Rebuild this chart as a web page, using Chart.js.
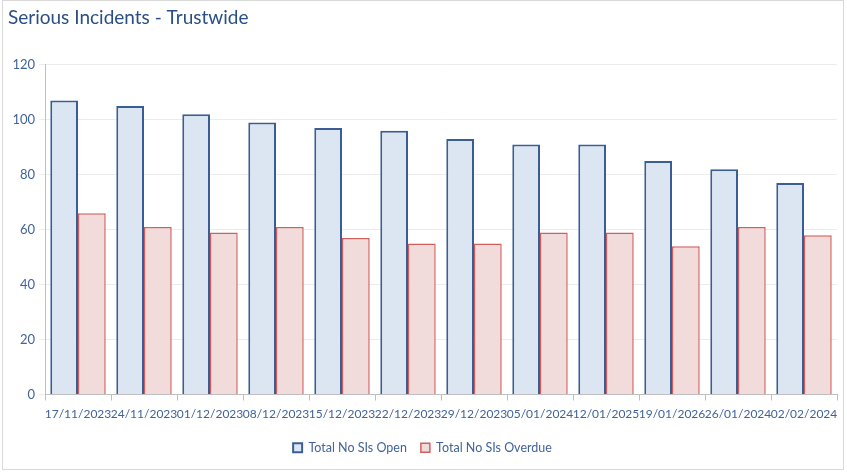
<!DOCTYPE html>
<html><head><meta charset="utf-8">
<script src="https://cdn.jsdelivr.net/npm/chart.js@4.4.1/dist/chart.umd.min.js"></script>
<style>html,body{margin:0;padding:0;background:#fff;overflow:hidden}#wrap{width:847px;height:473px;position:relative}</style>
</head><body><div id="wrap"><canvas id="c" width="847" height="473"></canvas></div>
<script>
const categories = ["17/11/2023","24/11/2023","01/12/2023","08/12/2023","15/12/2023","22/12/2023","29/12/2023","05/01/2024","12/01/2025","19/01/2026","26/01/2024","02/02/2024"];
const openValues = [107,105,102,99,97,96,93,91,91,85,82,77];
const overdueValues = [66,61,59,61,57,55,55,59,59,54,61,58];
const yTicks = [0,20,40,60,80,100,120];

const tickColor = '#41639A';
const borderPlugin = {
  id: 'frame',
  beforeDraw(chart) {
    const ctx = chart.ctx;
    ctx.save();
    ctx.fillStyle = '#fff';
    ctx.fillRect(0,0,chart.width,chart.height);
    ctx.strokeStyle = '#d9d9d9';
    ctx.lineWidth = 1;
    ctx.strokeRect(2.5, 0.5, 841, 469);
    ctx.restore();
  }
};

new Chart(document.getElementById('c'), {
  type: 'bar',
  data: {
    labels: categories,
    datasets: [
      { label: 'Total No SIs Open', data: openValues, backgroundColor: '#DCE6F2', borderColor: '#3A5E94', borderWidth: 2, borderSkipped: 'bottom' },
      { label: 'Total No SIs Overdue', data: overdueValues, backgroundColor: '#F2DCDB', borderColor: '#D0605D', borderWidth: 1.5, borderSkipped: 'bottom' }
    ]
  },
  options: {
    responsive: false,
    animation: false,
    devicePixelRatio: 1,
    datasets: { bar: { categoryPercentage: 0.84, barPercentage: 1 } },
    layout: { padding: { left: 8, right: 10, top: 0, bottom: 9 } },
    plugins: {
      title: { display: true, text: 'Serious Incidents - Trustwide', align: 'start', color: '#2A4F85',
        font: { family: 'Lato', size: 19, weight: 'normal' }, padding: { top: 6, bottom: 36 } },
      legend: { position: 'bottom', labels: { color: tickColor, font: { family: 'Lato', size: 12.5 }, boxWidth: 9, boxHeight: 9, padding: 14 } },
      tooltip: { enabled: false }
    },
    scales: {
      x: {
        offset: true,
        grid: { display: true, drawOnChartArea: false, drawTicks: true, tickLength: 6, offset: true, color: '#bfbfbf' },
        border: { color: '#bfbfbf', width: 1 },
        ticks: { color: tickColor, font: { family: 'Lato', size: 12 }, autoSkip: false, maxRotation: 0, minRotation: 0, padding: 6 },
        afterFit(s) { s.height = 33; }
      },
      y: {
        min: 0, max: 120,
        afterBuildTicks(s) { s.ticks = yTicks.map(v => ({ value: v })); },
        grid: { color: '#ececec', drawTicks: true, tickLength: 6 },
        border: { color: '#bfbfbf', width: 1 },
        ticks: { color: tickColor, font: { family: 'Lato', size: 13 }, padding: 4 },
        afterFit(s) { s.width = 37; }
      }
    }
  },
  plugins: [borderPlugin]
});
</script></body></html>
